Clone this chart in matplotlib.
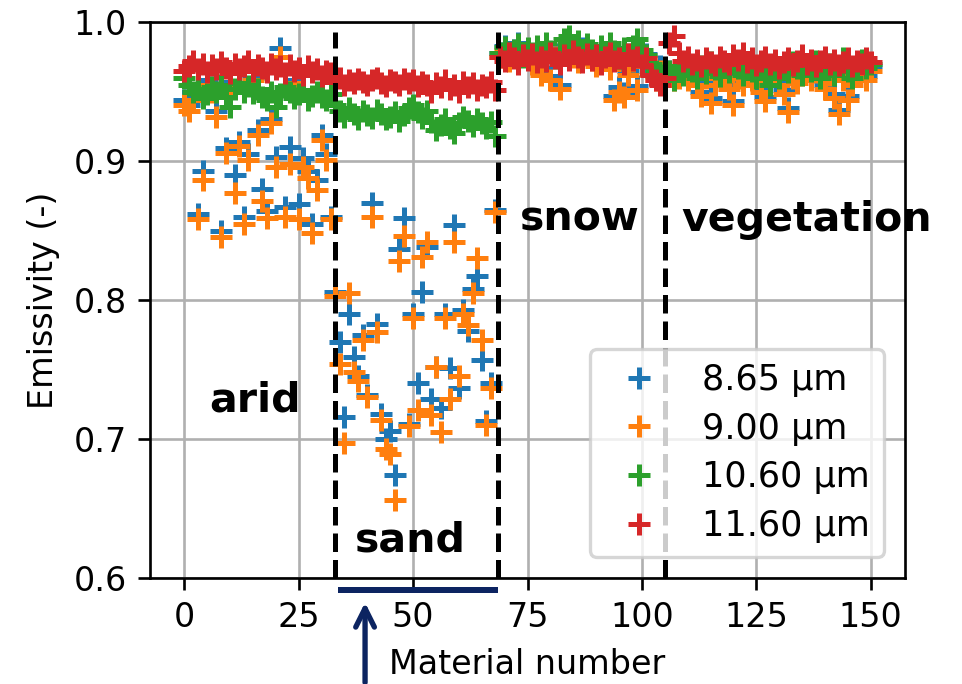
import numpy as np
import matplotlib
matplotlib.use("Agg")
import matplotlib.pyplot as plt
from matplotlib import transforms

# emissivity per material, one list per channel
# (arid 0-32, sand 33-68, snow 69-104, vegetation 105-150)
ems_865 = [
    0.944, 0.940, 0.947, 0.862, 0.893, 0.958, 0.953, 0.936, 0.850, 0.909,
    0.957, 0.890, 0.914, 0.860, 0.905, 0.960, 0.922, 0.880, 0.864, 0.930,
    0.903, 0.981, 0.867, 0.910, 0.958, 0.869, 0.902, 0.893, 0.855, 0.886,
    0.919, 0.905, 0.860,
    0.806, 0.770, 0.716, 0.790, 0.759, 0.745, 0.775, 0.732, 0.870, 0.783,
    0.718, 0.700, 0.706, 0.674, 0.837, 0.859, 0.711, 0.790, 0.740, 0.806,
    0.838, 0.729, 0.752, 0.722, 0.790, 0.751, 0.854, 0.737, 0.793, 0.778,
    0.808, 0.817, 0.757, 0.713, 0.740, 0.865,
    0.978, 0.983, 0.975, 0.980, 0.985, 0.978, 0.977, 0.973, 0.978, 0.965,
    0.975, 0.961, 0.977, 0.955, 0.981, 0.984, 0.978, 0.974, 0.981, 0.979,
    0.976, 0.971, 0.979, 0.977, 0.969, 0.947, 0.953, 0.949, 0.965, 0.975,
    0.954, 0.971, 0.977, 0.965, 0.961, 0.968,
    0.958, 0.965, 0.961, 0.963, 0.968, 0.961, 0.965, 0.958, 0.950, 0.963,
    0.945, 0.958, 0.965, 0.961, 0.955, 0.943, 0.963, 0.958, 0.967, 0.961,
    0.965, 0.953, 0.946, 0.961, 0.968, 0.958, 0.951, 0.938, 0.963, 0.959,
    0.965, 0.969, 0.961, 0.967, 0.963, 0.955, 0.965, 0.948, 0.937, 0.961,
    0.947, 0.958, 0.965, 0.969, 0.961, 0.968,
]
ems_900 = [
    0.940, 0.936, 0.944, 0.858, 0.886, 0.955, 0.950, 0.932, 0.845, 0.906,
    0.955, 0.877, 0.911, 0.855, 0.901, 0.958, 0.919, 0.871, 0.859, 0.927,
    0.896, 0.975, 0.860, 0.898, 0.956, 0.858, 0.896, 0.888, 0.848, 0.879,
    0.915, 0.901, 0.858,
    0.803, 0.754, 0.697, 0.805, 0.748, 0.742, 0.771, 0.730, 0.860, 0.777,
    0.714, 0.693, 0.689, 0.656, 0.828, 0.846, 0.709, 0.787, 0.721, 0.831,
    0.842, 0.717, 0.752, 0.705, 0.787, 0.729, 0.842, 0.745, 0.790, 0.782,
    0.805, 0.830, 0.771, 0.710, 0.737, 0.863,
    0.975, 0.980, 0.972, 0.978, 0.982, 0.976, 0.974, 0.970, 0.976, 0.962,
    0.972, 0.958, 0.975, 0.952, 0.978, 0.982, 0.975, 0.971, 0.979, 0.976,
    0.973, 0.968, 0.977, 0.974, 0.966, 0.944, 0.950, 0.946, 0.962, 0.972,
    0.951, 0.968, 0.975, 0.962, 0.958, 0.965,
    0.955, 0.962, 0.958, 0.960, 0.965, 0.958, 0.962, 0.955, 0.947, 0.960,
    0.942, 0.955, 0.962, 0.958, 0.952, 0.940, 0.960, 0.955, 0.964, 0.958,
    0.962, 0.950, 0.943, 0.958, 0.965, 0.955, 0.948, 0.935, 0.960, 0.956,
    0.962, 0.966, 0.958, 0.964, 0.960, 0.952, 0.962, 0.945, 0.934, 0.958,
    0.944, 0.955, 0.962, 0.966, 0.958, 0.965,
]
ems_1060 = [
    0.960, 0.955, 0.950, 0.952, 0.945, 0.948, 0.953, 0.950, 0.955, 0.946,
    0.939, 0.952, 0.956, 0.950, 0.954, 0.949, 0.952, 0.946, 0.944, 0.950,
    0.939, 0.948, 0.953, 0.950, 0.945, 0.948, 0.951, 0.944, 0.947, 0.950,
    0.946, 0.944, 0.948,
    0.940, 0.936, 0.932, 0.938, 0.934, 0.930, 0.936, 0.933, 0.931, 0.937,
    0.934, 0.930, 0.932, 0.935, 0.929, 0.933, 0.938, 0.940, 0.935, 0.931,
    0.936, 0.928, 0.922, 0.926, 0.930, 0.924, 0.920, 0.927, 0.932, 0.929,
    0.925, 0.930, 0.927, 0.924, 0.928, 0.918,
    0.978, 0.982, 0.976, 0.980, 0.984, 0.975, 0.981, 0.978, 0.983, 0.977,
    0.985, 0.979, 0.974, 0.980, 0.988, 0.990, 0.982, 0.986, 0.978, 0.984,
    0.980, 0.976, 0.983, 0.978, 0.985, 0.979, 0.974, 0.981, 0.977, 0.983,
    0.988, 0.980, 0.976, 0.970, 0.965, 0.962,
    0.962, 0.965, 0.958, 0.968, 0.962, 0.970, 0.965, 0.960, 0.968, 0.963,
    0.971, 0.966, 0.961, 0.969, 0.964, 0.972, 0.967, 0.962, 0.970, 0.965,
    0.960, 0.968, 0.963, 0.955, 0.966, 0.960, 0.969, 0.964, 0.971, 0.967,
    0.962, 0.968, 0.965, 0.972, 0.960, 0.966, 0.970, 0.962, 0.968, 0.974,
    0.965, 0.960, 0.969, 0.973, 0.967, 0.970,
]
ems_1160 = [
    0.965, 0.968, 0.972, 0.966, 0.970, 0.964, 0.969, 0.966, 0.971, 0.967,
    0.963, 0.970, 0.966, 0.968, 0.972, 0.965, 0.969, 0.967, 0.964, 0.970,
    0.966, 0.968, 0.963, 0.969, 0.965, 0.967, 0.962, 0.968, 0.964, 0.966,
    0.961, 0.965, 0.963,
    0.957, 0.960, 0.955, 0.958, 0.956, 0.959, 0.957, 0.955, 0.958, 0.960,
    0.956, 0.954, 0.958, 0.957, 0.955, 0.959, 0.956, 0.958, 0.954, 0.957,
    0.955, 0.950, 0.956, 0.953, 0.958, 0.952, 0.955, 0.950, 0.957, 0.953,
    0.956, 0.951, 0.955, 0.953, 0.957, 0.951,
    0.975, 0.972, 0.978, 0.974, 0.970, 0.976, 0.973, 0.977, 0.971, 0.975,
    0.972, 0.978, 0.974, 0.970, 0.976, 0.973, 0.979, 0.975, 0.971, 0.977,
    0.973, 0.976, 0.970, 0.975, 0.978, 0.972, 0.974, 0.970, 0.977, 0.973,
    0.975, 0.969, 0.974, 0.962, 0.958, 0.955,
    0.960, 0.985, 0.990, 0.978, 0.972, 0.975, 0.970, 0.973, 0.968, 0.974,
    0.971, 0.969, 0.975, 0.972, 0.970, 0.976, 0.973, 0.978, 0.971, 0.974,
    0.969, 0.972, 0.975, 0.970, 0.973, 0.967, 0.971, 0.974, 0.969, 0.972,
    0.976, 0.970, 0.973, 0.968, 0.972, 0.975, 0.970, 0.973, 0.969, 0.971,
    0.974, 0.968, 0.972, 0.970, 0.974, 0.971,
]
labels = ["8.65 µm", "9.00 µm", "10.60 µm", "11.60 µm"]
colors = ["#1f77b4", "#ff7f0e", "#2ca02c", "#d62728"]

# class boundaries and class names
bounds = [33, 68.5, 105]
classes = ["arid", "sand", "snow", "vegetation"]
class_pos = [(15.4, 0.720), (49.5, 0.619), (86.4, 0.850), (136.0, 0.850)]

navy = "#0c2461"

fig = plt.figure(figsize=(962 / 240, 684 / 240), dpi=240)
ax = fig.add_axes([150 / 962, 1 - 578 / 684, 755 / 962, 556 / 684])

x = np.arange(len(ems_865))
for y, lab, c in zip([ems_865, ems_900, ems_1060, ems_1160], labels, colors):
    ax.plot(x, y, ls="none", marker="+", ms=6.8, mew=1.5, color=c, label=lab)

for b in bounds:
    ax.plot([b, b], [0.6, 0.993], color="black", ls="--", lw=1.5, zorder=3)

for name, (px, py) in zip(classes, class_pos):
    ax.text(px, py, name, ha="center", va="baseline", fontsize=12.3,
            fontweight="bold", zorder=4)

ax.set_xlim(-7.5, 157.5)
ax.set_ylim(0.6, 1.0)
ax.set_xticks([0, 25, 50, 75, 100, 125, 150])
ax.set_yticks([0.6, 0.7, 0.8, 0.9, 1.0])
ax.tick_params(labelsize=10)
ax.grid(True)
ax.set_axisbelow(True)
ax.set_xlabel("Material number", fontsize=10)
ax.set_ylabel("Emissivity (-)", fontsize=10)
ax.legend(loc="lower right", fontsize=10.5, labelspacing=0.42,
          borderaxespad=0.6)

# navy marker under the sand range plus arrows
trans = transforms.blended_transform_factory(ax.transData, ax.transAxes)
ax.plot([33.6, 68.6], [-0.022, -0.022], color=navy, lw=1.8,
        transform=trans, clip_on=False, solid_capstyle="butt")
ax.annotate("", xy=(39.5, -0.032), xycoords=trans,
            xytext=(39.5, -0.2), textcoords=trans,
            arrowprops=dict(arrowstyle="->", color=navy, lw=1.6,
                            mutation_scale=14))
ax.annotate("", xy=(0.007, 1 - 543 / 684), xycoords="figure fraction",
            xytext=(-0.01, 1 - 543 / 684), textcoords="figure fraction",
            arrowprops=dict(arrowstyle="-|>", color=navy, lw=1.0,
                            mutation_scale=8), annotation_clip=False)

fig.savefig("out.png", dpi=240)
